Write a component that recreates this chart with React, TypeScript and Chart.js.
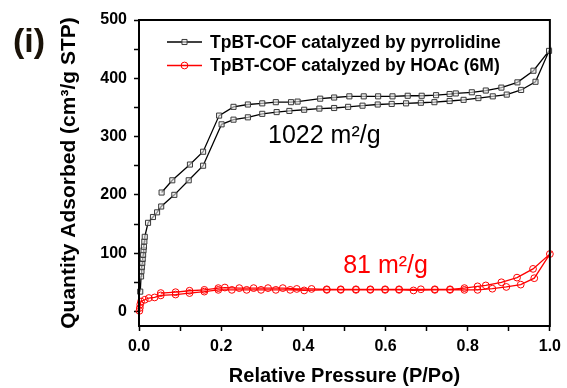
import React, { useEffect, useRef } from 'react';
import { Chart, registerables } from 'chart.js';

Chart.register(...registerables);

// ---- Data ----
const seriesLabels = ['TpBT-COF catalyzed by pyrrolidine', 'TpBT-COF catalyzed by HOAc (6M)'];

// pyrrolidine sample, adsorption branch
const pyrAdsP = [0.003, 0.005, 0.006, 0.007, 0.008, 0.009, 0.010, 0.011, 0.012, 0.013, 0.014, 0.022, 0.034, 0.044, 0.054, 0.086, 0.121, 0.156, 0.201, 0.230, 0.265, 0.300, 0.335, 0.366, 0.402, 0.439, 0.475, 0.509, 0.544, 0.581, 0.615, 0.650, 0.686, 0.719, 0.756, 0.790, 0.826, 0.861, 0.895, 0.930, 0.965, 0.998];
const pyrAdsV = [34, 60, 69, 76, 83, 90, 97, 105, 111, 120, 128, 152, 162, 170, 180, 200, 225, 250, 321, 329, 333, 339, 342, 344, 346, 348, 349, 351, 353, 355, 356, 357, 358, 359, 361, 363, 366, 369, 372, 380, 394, 447];
// pyrrolidine sample, desorption branch
const pyrDesP = [0.960, 0.921, 0.882, 0.844, 0.810, 0.771, 0.756, 0.723, 0.688, 0.654, 0.617, 0.582, 0.547, 0.512, 0.475, 0.441, 0.386, 0.370, 0.333, 0.300, 0.265, 0.230, 0.195, 0.156, 0.124, 0.081, 0.055];
const pyrDesV = [413, 393, 384, 379, 376, 374, 373, 371, 370, 370, 369, 369, 369, 369, 367, 365, 360, 359, 359, 357, 355, 351, 336, 274, 252, 225, 204];

// HOAc sample, adsorption branch
const hoacAdsP = [0.001, 0.002, 0.003, 0.005, 0.014, 0.024, 0.038, 0.053, 0.089, 0.123, 0.159, 0.193, 0.226, 0.262, 0.297, 0.333, 0.368, 0.402, 0.457, 0.491, 0.528, 0.563, 0.599, 0.633, 0.668, 0.720, 0.757, 0.792, 0.824, 0.860, 0.894, 0.929, 0.962, 1.000];
const hoacAdsV = [1, 6, 12, 17, 20, 23, 24, 27.5, 29, 31.5, 34, 37, 37, 37, 37, 37, 37, 36, 37, 37, 37, 37, 37, 37, 36, 37, 37, 37, 37, 39, 42, 46, 57, 98.5];
// HOAc sample, desorption branch
const hoacDesP = [0.959, 0.920, 0.882, 0.844, 0.824, 0.792, 0.757, 0.720, 0.686, 0.633, 0.599, 0.563, 0.528, 0.491, 0.457, 0.420, 0.384, 0.350, 0.314, 0.279, 0.244, 0.209, 0.193, 0.159, 0.123, 0.089, 0.053];
const hoacDesV = [73, 58, 50, 44.6, 43, 40, 38, 38, 38, 38, 38, 38, 38, 38, 38, 38.6, 38.6, 40, 40, 40, 40, 41, 40, 37, 35.5, 33, 31.5];

// axes
const xTicks = [0, 0.1, 0.2, 0.3, 0.4, 0.5, 0.6, 0.7, 0.8, 0.9, 1.0];
const xLabelEvery = 0.2;
const yTicks = [0, 50, 100, 150, 200, 250, 300, 350, 400, 450, 500];
const yLabelEvery = 100;
const xTitle = 'Relative Pressure (P/Po)';
const yTitle = 'Quantity Adsorbed (cm\u00B3/g STP)';

// annotations: [text, x, y, colour]
const surfaceLabels: [string, number, number, string][] = [
  ['1022 m\u00B2/g', 0.314, 300, '#000000'],
  ['81 m\u00B2/g', 0.497, 77, '#ff0000'],
];
const panelLabel = '(i)';

const FONT = '"Liberation Sans", Arial, Helvetica, sans-serif';

const toPoints = (xs: number[], ys: number[]) => xs.map((x, i) => ({ x, y: ys[i] }));

const framePlugin = {
  id: 'frame',
  afterDraw(chart: any) {
    const { ctx, chartArea: a } = chart;
    ctx.save();
    ctx.strokeStyle = '#000';
    ctx.lineWidth = 2;
    ctx.strokeRect(a.left, a.top, a.right - a.left, a.bottom - a.top);
    ctx.restore();
  },
};

const legendPlugin = {
  id: 'insideLegend',
  afterDraw(chart: any) {
    const { ctx, chartArea: a } = chart;
    chart.data.datasets.forEach((ds: any, i: number) => {
      const y = a.top + 22 + i * 23.5;
      const x0 = a.left + 28;
      const x1 = x0 + 35;
      const xm = (x0 + x1) / 2;
      ctx.save();
      ctx.strokeStyle = ds.borderColor;
      ctx.lineWidth = ds.borderWidth;
      ctx.beginPath();
      ctx.moveTo(x0, y);
      ctx.lineTo(x1, y);
      ctx.stroke();
      ctx.strokeStyle = ds.pointBorderColor;
      ctx.fillStyle = ds.pointBackgroundColor;
      ctx.lineWidth = ds.pointBorderWidth;
      ctx.beginPath();
      if (ds.pointStyle === 'rect') {
        const s = ds.pointRadius * Math.SQRT1_2;
        ctx.rect(xm - s, y - s, 2 * s, 2 * s);
      } else {
        ctx.arc(xm, y, ds.pointRadius, 0, Math.PI * 2);
      }
      ctx.fill();
      ctx.stroke();
      ctx.fillStyle = '#000';
      ctx.font = `bold 17.5px ${FONT}`;
      ctx.textBaseline = 'middle';
      ctx.textAlign = 'left';
      ctx.fillText(ds.label, x1 + 8, y + 1);
      ctx.restore();
    });
  },
};

const textPlugin = {
  id: 'texts',
  afterDraw(chart: any) {
    const { ctx } = chart;
    const xs = chart.scales.x;
    const ys = chart.scales.y;
    ctx.save();
    ctx.textBaseline = 'middle';
    ctx.textAlign = 'left';
    ctx.font = `25px ${FONT}`;
    surfaceLabels.forEach(([t, x, y, c]) => {
      ctx.fillStyle = c;
      ctx.fillText(t, xs.getPixelForValue(x), ys.getPixelForValue(y));
    });
    ctx.fillStyle = '#1a1208';
    ctx.font = `bold 34px ${FONT}`;
    ctx.textAlign = 'center';
    ctx.fillText(panelLabel, 29, 43);
    ctx.restore();
  },
};

export default function App() {
  const ref = useRef<HTMLCanvasElement>(null);

  useEffect(() => {
    const canvas = ref.current!;
    const tickFont = { family: FONT, size: 16, weight: 'bold' as const };
    const xTitleFont = { family: FONT, size: 20, weight: 'bold' as const };
    const yTitleFont = { family: FONT, size: 21, weight: 'bold' as const };
    const chart = new Chart(canvas, {
      type: 'scatter',
      data: {
        datasets: [
          {
            label: seriesLabels[0],
            data: toPoints([...pyrAdsP, ...pyrDesP], [...pyrAdsV, ...pyrDesV]),
            showLine: true,
            borderColor: '#000000',
            borderWidth: 1.3,
            pointStyle: 'rect',
            pointRadius: 3.6,
            pointBorderColor: '#3a3a3a',
            pointBackgroundColor: 'rgba(235,235,235,0.6)',
            pointBorderWidth: 1,
            clip: false,
          } as any,
          {
            label: seriesLabels[1],
            data: toPoints([...hoacAdsP, ...hoacDesP], [...hoacAdsV, ...hoacDesV]),
            showLine: true,
            borderColor: '#ff0000',
            borderWidth: 1.3,
            pointStyle: 'circle',
            pointRadius: 3.4,
            pointBorderColor: '#ff0000',
            pointBackgroundColor: 'rgba(255,255,255,0)',
            pointBorderWidth: 1,
            clip: false,
          } as any,
        ],
      },
      options: {
        responsive: false,
        animation: false,
        layout: { padding: { left: 0, right: 16, top: 20, bottom: 0 } },
        plugins: { legend: { display: false }, tooltip: { enabled: false } },
        scales: {
          x: {
            type: 'linear',
            min: 0,
            max: 1,
            afterBuildTicks: (s: any) => {
              s.ticks = xTicks.map((v) => ({ value: v }));
            },
            afterFit: (s: any) => {
              s.height = 62;
            },
            ticks: {
              autoSkip: false,
              maxRotation: 0,
              padding: 6,
              color: '#000',
              font: tickFont,
              callback: (v: any) => {
                const n = Math.round(Number(v) * 10);
                return n % Math.round(xLabelEvery * 10) === 0 ? Number(v).toFixed(1) : '';
              },
            },
            grid: { drawOnChartArea: false, tickLength: 5, tickColor: '#000', tickWidth: 1.5 },
            border: { color: '#000', width: 2 },
            title: { display: true, text: xTitle, color: '#000', font: xTitleFont, padding: 0 },
          },
          y: {
            type: 'linear',
            min: -25,
            max: 500,
            afterBuildTicks: (s: any) => {
              s.ticks = yTicks.map((v) => ({ value: v }));
            },
            afterFit: (s: any) => {
              s.width = 139;
            },
            ticks: {
              autoSkip: false,
              padding: 7,
              color: '#000',
              font: tickFont,
              callback: (v: any) => (Math.round(Number(v)) % yLabelEvery === 0 ? String(Math.round(Number(v))) : ''),
            },
            grid: { drawOnChartArea: false, tickLength: 5, tickColor: '#000', tickWidth: 1.5 },
            border: { color: '#000', width: 2 },
            title: { display: true, text: yTitle, color: '#000', font: yTitleFont, padding: { top: 57, bottom: 0 } },
          },
        },
      } as any,
      plugins: [framePlugin, legendPlugin, textPlugin],
    });
    return () => chart.destroy();
  }, []);

  return (
    <div style={{ position: 'fixed', left: 0, top: 0, width: 567, height: 388, background: '#fff' }}>
      <canvas ref={ref} width={567} height={388} style={{ width: 567, height: 388, display: 'block' }} />
    </div>
  );
}
